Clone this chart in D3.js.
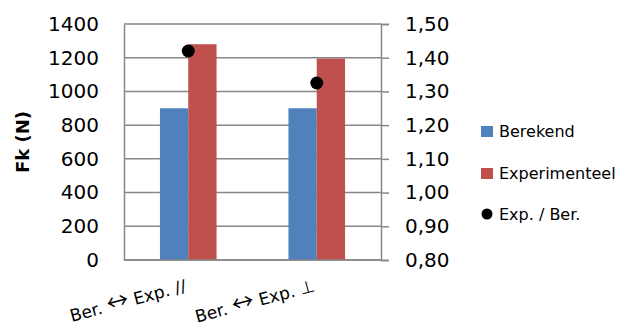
<!DOCTYPE html>
<html>
<head>
<meta charset="utf-8">
<script src="https://cdn.jsdelivr.net/npm/d3@7/dist/d3.min.js"></script>
<style>
  html, body { margin: 0; padding: 0; background: #fff; }
  svg { display: block; }
  text { font-family: "DejaVu Sans", sans-serif; fill: #000; }
</style>
</head>
<body>
<svg id="chart" width="624" height="327"></svg>
<script>
// Chart data
const categories = ["Ber. \u2194 Exp. //", "Ber. \u2194 Exp. \u22A5"];
const seriesNames = ["Berekend", "Experimenteel"];
const berekend = [900, 900];
const experimenteel = [1280, 1195];
const ratio = [1.42, 1.325];           // Exp. / Ber. (right axis)
const leftTicks = [0, 200, 400, 600, 800, 1000, 1200, 1400];
const rightTicks = [0.8, 0.9, 1.0, 1.1, 1.2, 1.3, 1.4, 1.5];

const colors = { Berekend: "#4F81BD", Experimenteel: "#C0504D" };
const gridColor = "#878787";

const svg = d3.select("#chart");
const plot = { left: 124, right: 381, top: 24, bottom: 260 };

const yL = d3.scaleLinear().domain([0, 1400]).range([plot.bottom, plot.top]);
const yR = d3.scaleLinear().domain([0.8, 1.5]).range([plot.bottom, plot.top]);
const x0 = d3.scaleBand().domain(categories).range([plot.left, plot.right]);
const x1 = d3.scaleBand().domain(seriesNames).range([0, x0.bandwidth()])
  .paddingInner(0).paddingOuter(1.27);

const nl = d3.formatLocale({ decimal: ",", thousands: ".", grouping: [3], currency: ["€", ""] });
const fmtR = nl.format(".2f");

// Horizontal gridlines
svg.append("g").selectAll("line").data(leftTicks).join("line")
  .attr("x1", plot.left).attr("x2", plot.right)
  .attr("y1", d => yL(d)).attr("y2", d => yL(d))
  .attr("stroke", gridColor).attr("stroke-width", 1.5);

// Bars
const rows = categories.map((c, i) => ({ cat: c, values: [
  { name: "Berekend", v: berekend[i] },
  { name: "Experimenteel", v: experimenteel[i] }
]}));
svg.append("g").selectAll("g").data(rows).join("g")
  .attr("transform", d => `translate(${x0(d.cat)},0)`)
  .selectAll("rect").data(d => d.values).join("rect")
  .attr("x", d => x1(d.name)).attr("width", x1.bandwidth())
  .attr("y", d => yL(d.v)).attr("height", d => yL(0) - yL(d.v))
  .attr("fill", d => colors[d.name]);

// Left axis
const axL = svg.append("g").attr("transform", `translate(${plot.left},0)`)
  .call(d3.axisLeft(yL).tickValues(leftTicks).tickSize(0).tickPadding(25).tickFormat(d3.format("d")));
axL.select(".domain").attr("stroke", gridColor).attr("stroke-width", 1.5);
axL.selectAll("text").attr("font-size", 20).attr("font-family", "DejaVu Sans");

// Right axis
const axR = svg.append("g").attr("transform", `translate(${plot.right},0)`)
  .call(d3.axisRight(yR).tickValues(rightTicks).tickSizeInner(8).tickSizeOuter(8).tickPadding(16).tickFormat(fmtR));
axR.select(".domain").attr("stroke", gridColor).attr("stroke-width", 1.5);
axR.selectAll(".tick line").attr("stroke", gridColor).attr("stroke-width", 1.5);
axR.selectAll("text").attr("font-size", 20).attr("font-family", "DejaVu Sans");

// Bottom baseline
svg.append("line").attr("x1", plot.left).attr("x2", plot.right)
  .attr("y1", plot.bottom).attr("y2", plot.bottom)
  .attr("stroke", gridColor).attr("stroke-width", 1.5);

// Ratio points (right axis)
svg.append("g").selectAll("circle").data(categories).join("circle")
  .attr("cx", d => x0(d) + x0.bandwidth() / 2)
  .attr("cy", (d, i) => yR(ratio[i]))
  .attr("r", 6.5).attr("fill", "#000");

// Category labels, rotated; the arrow is set in a wider glyph
const catLabels = svg.append("g").selectAll("text").data(categories).join("text")
  .attr("transform", d => `translate(${x0(d) + x0.bandwidth() / 2 - 1},${plot.bottom + 31}) rotate(-15)`)
  .attr("text-anchor", "end")
  .attr("font-size", 17);
catLabels.each(function (d) {
  const parts = d.split("\u2194");
  const t = d3.select(this);
  t.append("tspan").text(parts[0]);
  t.append("tspan").attr("font-family", "Noto Sans CJK JP").attr("font-size", 22).text("\u2194");
  t.append("tspan").text(parts[1]);
});

// Y axis title
svg.append("text")
  .attr("transform", `translate(29,${(plot.top + plot.bottom) / 2}) rotate(-90)`)
  .attr("text-anchor", "middle")
  .attr("font-size", 18).attr("font-weight", "bold")
  .text("Fk (N)");

// Legend
const legend = svg.append("g").attr("transform", "translate(481,0)");
const legItems = [
  { name: "Berekend", type: "rect", y: 131 },
  { name: "Experimenteel", type: "rect", y: 173 },
  { name: "Exp. / Ber.", type: "dot", y: 214 }
];
legItems.forEach(it => {
  if (it.type === "rect") {
    legend.append("rect").attr("x", 0).attr("y", it.y - 5).attr("width", 12).attr("height", 11)
      .attr("fill", colors[it.name]);
  } else {
    legend.append("circle").attr("cx", 6).attr("cy", it.y).attr("r", 5.5).attr("fill", "#000");
  }
  legend.append("text").attr("x", 18).attr("y", it.y).attr("dy", "0.35em")
    .attr("font-size", 16).text(it.name);
});
</script>
</body>
</html>
